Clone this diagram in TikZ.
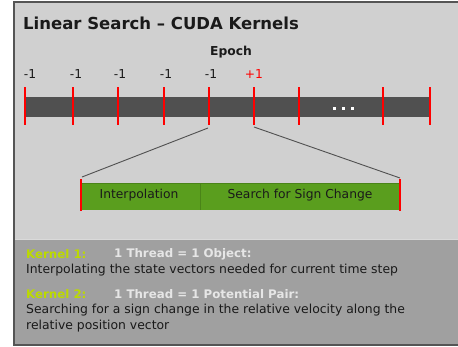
\documentclass[tikz,border=0pt]{standalone}
\usepackage{fontspec}
\setmainfont{DejaVu Sans}
\definecolor{bgl}{HTML}{D0D0D0}
\definecolor{bgd}{HTML}{A0A0A0}
\definecolor{frame}{HTML}{555555}
\definecolor{barc}{HTML}{505050}
\definecolor{grn}{HTML}{5A9E1E}
\definecolor{grnd}{HTML}{4A8418}
\definecolor{kyel}{HTML}{BCDA00}
\definecolor{thr}{HTML}{E6E6E6}
\definecolor{txt}{HTML}{1A1A1A}
\tikzset{
  tick/.style={draw=red, line width=1.4pt},
  lbl/.style={font=\fontsize{12.3}{14}\selectfont, text=txt, inner sep=0pt},
  body/.style={font=\fontsize{12.4}{14}\selectfont, text=txt, anchor=west, inner sep=0pt},
  kern/.style={font=\fontsize{11.8}{14}\selectfont\bfseries, text=kyel, anchor=west, inner sep=0pt},
  thread/.style={font=\fontsize{11.8}{14}\selectfont\bfseries, text=thr, anchor=west, inner sep=0pt},
  zoomline/.style={draw=barc, line width=0.9pt},
  dot/.style={fill=white, minimum size=3pt, inner sep=0pt},
}
\begin{document}
\begin{tikzpicture}[x=1pt,y=-1pt]
\useasboundingbox (0,0) rectangle (458,346);
\fill[white] (0,0) rectangle (458,346);
% frame
\fill[bgl] (14,2) rectangle (460,345);
\fill[bgd] (14,239) rectangle (460,344);
\draw[bgl!80!white, line width=0.6pt] (14,239) -- (460,239);
\draw[frame, line width=1.5pt] (460,2) -- (14,2) -- (14,345) -- (460,345);
% title
\node[anchor=west, inner sep=0pt, font=\fontsize{16.5}{20}\selectfont\bfseries, text=txt] (title) at (23,23) {Linear Search – CUDA Kernels};
\node[lbl, font=\fontsize{12.3}{14}\selectfont\bfseries] (epoch) at (231,52) {Epoch};
% bar
\fill[barc] (25,97) rectangle (430,117);
\node[dot] (d1) at (334,108) {};
\node[dot] (d2) at (343,108) {};
\node[dot] (d3) at (352,108) {};
\foreach \x [count=\i] in {25,73,118,164,209,254,299,383,430}{
  \coordinate (t\i) at (\x,125);
  \draw[tick] (\x,87) -- (t\i);
}
\foreach \x [count=\i] in {30,76,120,166,211}{
  \node[lbl] (m\i) at (\x,74) {-1};
}
\node[lbl, text=red] (p1) at (254,74) {+1};
% green bar
\fill[grn] (81,183) rectangle (400,210);
\draw[grnd, line width=0.6pt] (81,183) -- (400,183);
\draw[grnd, line width=0.7pt] (200,183) -- (200,210);
\coordinate (gl) at (82,177);
\coordinate (gr) at (400,178);
\draw[tick] (81,179) -- (81,211);
\draw[tick] (400,179) -- (400,211);
\node[lbl] (interp) at (139,195.5) {Interpolation};
\node[lbl] (search) at (300,195.5) {Search for Sign Change};
\coordinate (zl) at (208,128);
\coordinate (zr) at (254,127);
\draw[zoomline] (zl) -- (gl);
\draw[zoomline] (zr) -- (gr);
% bottom text
\node[kern] (k1) at (26,254) {Kernel 1:};
\node[thread] (th1) at (114,254) {1 Thread = 1 Object:};
\node[body] (b1) at (26,270) {Interpolating the state vectors needed for current time step};
\node[kern] (k2) at (26,294) {Kernel 2:};
\node[thread] (th2) at (114,294) {1 Thread = 1 Potential Pair:};
\node[body] (b2) at (26,310) {Searching for a sign change in the relative velocity along the};
\node[body] (b3) at (26,326) {relative position vector};
\end{tikzpicture}
\end{document}
